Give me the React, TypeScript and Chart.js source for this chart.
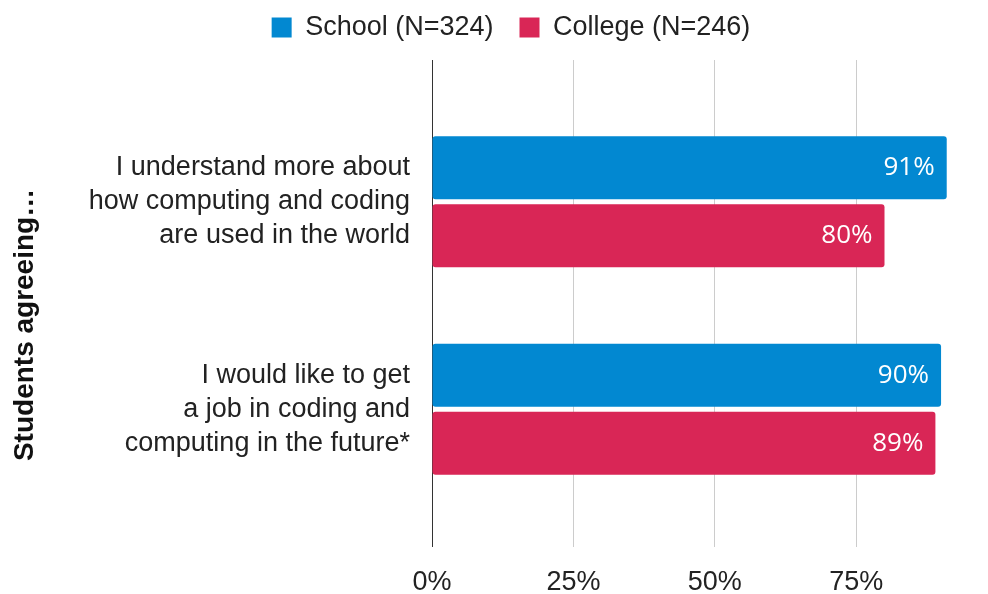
import React, { useEffect, useRef } from 'react';
import { Chart, registerables } from 'chart.js';

Chart.register(...registerables);

const categories: string[][] = [
  ['I understand more about', 'how computing and coding', 'are used in the world'],
  ['I would like to get', 'a job in coding and', 'computing in the future*'],
];
const seriesNames = ['School (N=324)', 'College (N=246)'];
const schoolValues = [91, 90];
const collegeValues = [80, 89];
const xTickValues = [0, 25, 50, 75];
const xMax = 96;
const axisTitle = 'Students agreeing…     ';

const FONT = '"Liberation Sans", Arial, sans-serif';
const TEXT = '#222222';
const GRID = '#cccccc';
const AXIS = '#333333';

const valueLabels = {
  id: 'valueLabels',
  afterDatasetsDraw(chart: any) {
    const ctx = chart.ctx;
    ctx.save();
    ctx.font = '26px "Open Sans", "Noto Sans", sans-serif';
    ctx.fillStyle = '#ffffff';
    ctx.textAlign = 'right';
    ctx.textBaseline = 'middle';
    chart.data.datasets.forEach((ds: any, i: number) => {
      chart.getDatasetMeta(i).data.forEach((el: any, j: number) => {
        ctx.fillText(ds.data[j] + '%', el.x - 12, el.y);
      });
    });
    ctx.restore();
  },
};

const setTicks = (scale: any) => {
  scale.ticks = xTickValues.map((v) => ({ value: v }));
};
const gridColor = (c: any) => (c.tick && c.tick.value === 0 ? AXIS : GRID);

export default function App() {
  const ref = useRef<HTMLCanvasElement>(null);
  useEffect(() => {
    if (!ref.current) return;
    const chart = new Chart(ref.current, {
      type: 'bar',
      data: {
        labels: categories,
        datasets: [
          {
            label: seriesNames[0],
            data: schoolValues,
            backgroundColor: '#0288d1',
            borderRadius: 3,
            borderSkipped: false,
            categoryPercentage: 0.655,
            barPercentage: 0.927,
          },
          {
            label: seriesNames[1],
            data: collegeValues,
            backgroundColor: '#d92656',
            borderRadius: 3,
            borderSkipped: false,
            categoryPercentage: 0.655,
            barPercentage: 0.927,
          },
        ],
      },
      options: {
        indexAxis: 'y',
        responsive: true,
        maintainAspectRatio: false,
        animation: false,
        layout: { padding: { left: 47, right: 13, top: -12, bottom: 0 } },
        plugins: {
          tooltip: { enabled: false },
          legend: {
            position: 'top',
            labels: {
              font: { family: FONT, size: 27 },
              color: TEXT,
              boxWidth: 20,
              boxHeight: 20,
              padding: 26,
            },
          },
        },
        scales: {
          x: {
            type: 'linear',
            position: 'bottom',
            min: 0,
            max: xMax,
            afterBuildTicks: setTicks,
            afterFit: (s: any) => {
              s.height = 81;
            },
            ticks: {
              font: { family: FONT, size: 27 },
              color: TEXT,
              padding: 19,
              callback: (v: any) => v + '%',
            },
            grid: {
              color: gridColor,
              lineWidth: 1,
              tickLength: 34,
              drawTicks: true,
            },
            border: { display: false },
          },
          x2: {
            type: 'linear',
            axis: 'x',
            position: 'top',
            min: 0,
            max: xMax,
            afterBuildTicks: setTicks,
            afterFit: (s: any) => {
              s.height = 47;
            },
            ticks: { display: false },
            grid: {
              color: gridColor,
              lineWidth: 1,
              tickLength: 38,
              drawTicks: true,
              drawOnChartArea: false,
            },
            border: { display: false },
          },
          y: {
            type: 'category',
            afterFit: (s: any) => {
              s.width = 432 - 47;
            },
            ticks: {
              font: { family: FONT, size: 27, lineHeight: 1.26 },
              color: TEXT,
              padding: 14,
            },
            grid: { display: false },
            border: { display: false },
            title: {
              display: true,
              text: axisTitle,
              font: { family: FONT, size: 28, weight: 'bold' },
              color: '#111111',
              padding: { top: -39, bottom: 0 },
            },
          },
        },
      },
      plugins: [valueLabels],
    } as any);
    return () => chart.destroy();
  }, []);
  return (
    <div style={{ position: 'absolute', left: 0, top: 0, width: 988, height: 594 }}>
      <canvas ref={ref} />
    </div>
  );
}
